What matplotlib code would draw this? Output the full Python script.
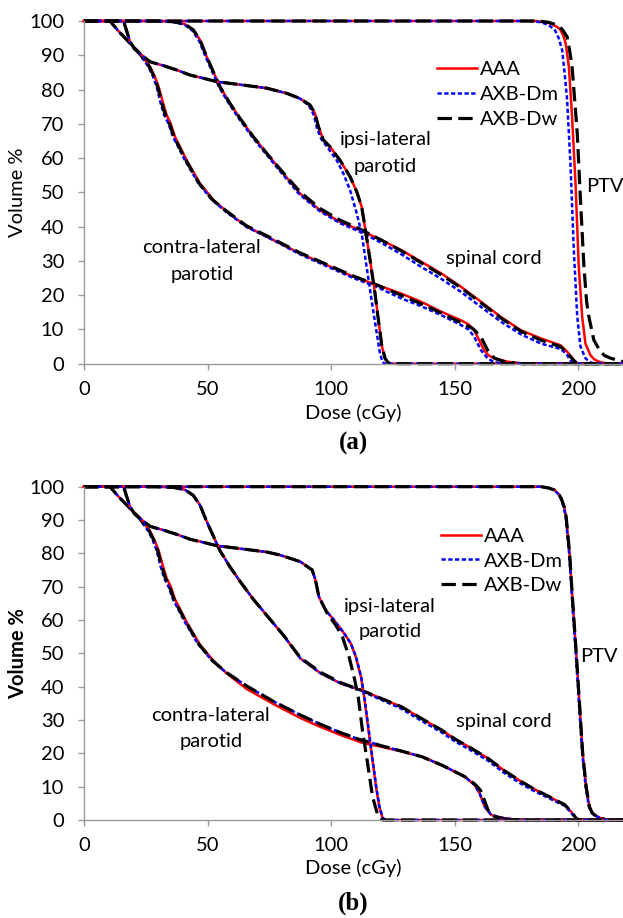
import matplotlib
matplotlib.use('Agg')
import matplotlib.pyplot as plt

plt.rcParams['font.family'] = ['Lato', 'DejaVu Sans']

# ── 데이터 (dose cGy, volume %) ──────────────────────
# panel (a)
A_PTV_AAA = [(0, 100), (183, 100), (188.7, 99.3), (191.5, 98.2), (192.7, 97.4), (194, 95.5), (194.8, 93.5),
             (196.1, 86.7), (197.4, 72.1), (198.8, 52.6), (200.1, 28.3), (201.5, 13.7), (202.8, 5.9),
             (204.8, 2.5), (206.5, 1.2), (208.9, 0.4), (212, 0), (218, 0)]
A_PTV_DM = [(0, 100), (181, 100), (185, 99.6), (188, 98.8), (190.5, 97.3), (192, 95), (193.4, 91.5),
            (194.5, 84), (195.4, 77), (196.8, 57.5), (198.1, 33.2), (199.5, 13.7), (200.8, 5),
            (202.8, 1.6), (204.5, 0.5), (206.5, 0), (218, 0)]
A_PTV_DW = [(0, 100), (184, 100), (188, 99.6), (191.4, 98.8), (193.5, 97.5), (195.4, 95.4), (196.5, 91),
            (197.4, 86.7), (199.5, 67.2), (200.8, 47.8), (202.2, 28.3), (203.3, 18), (204.2, 13.7),
            (206.2, 6.9), (208.9, 3.5), (210.5, 2.4), (213, 1.6), (216, 1.0), (218, 0.6)]

A_CORD_AAA = [(0, 100), (29, 100), (36, 99.8), (40.8, 99.1), (44.2, 97.4), (46.9, 94.5), (49.6, 89.6),
              (52.3, 85.2), (55, 80.8), (59, 76), (63.1, 71.6), (68.5, 66.2), (73.9, 61.4), (80.6, 55.5),
              (87.3, 49.7), (95.4, 44.8), (103.5, 41.4), (111.6, 39), (120.2, 36.1), (128.2, 33.2),
              (136.3, 29.8), (144.4, 26.4), (152.4, 22.5), (160.5, 18.1), (168.5, 13.7), (176.6, 9.8),
              (184.7, 7.4), (192.7, 5.4), (195.4, 3.5), (198.1, 1.1), (199.5, 0.1), (200.5, 0), (218, 0)]
A_CORD_DM = [(0, 100), (28.5, 100), (35.5, 99.8), (40.5, 99), (43.8, 97.2), (46.5, 94.3), (49.2, 89.5),
             (52, 85), (54.7, 80.6), (58.7, 75.8), (62.8, 71.4), (68.2, 66), (73.6, 61.2), (80.3, 55.3),
             (87, 49.5), (95.2, 44.6), (103.5, 41), (111.6, 38.5), (120.2, 35.3), (128.2, 32),
             (136.3, 28.3), (144.4, 24.8), (152.4, 21), (160.5, 16.6), (168.5, 12.3), (176.6, 8.6),
             (184.7, 5.9), (192.7, 4.3), (195, 3), (196.5, 1.2), (197.5, 0.1), (198.5, 0), (218, 0)]
A_CORD_DW = [(0, 100), (29, 100), (36, 99.8), (40.8, 99.1), (44.2, 97.4), (46.9, 94.5), (49.6, 89.6),
             (52.3, 85.2), (55, 80.8), (59, 76), (63.1, 71.6), (68.5, 66.2), (73.9, 61.4), (80.6, 55.7),
             (87.3, 50.2), (95.4, 45.3), (103.5, 41.9), (111.6, 39.3), (120.2, 36.1), (128.2, 33),
             (136.3, 29.5), (144.4, 26), (152.4, 22.2), (160.5, 17.8), (168.5, 13.4), (176.6, 9.5),
             (184.7, 6.9), (192.7, 5), (195.4, 3.2), (198, 1), (199.3, 0.1), (200.3, 0), (218, 0)]

A_CONTRA_AAA = [(0, 100), (10.5, 100), (14, 97), (17.3, 94.5), (22.6, 90.6), (26.7, 86.7), (28.5, 84),
                (30.2, 80.8), (32, 76), (33.4, 72.6), (35.1, 70), (36.8, 66.2), (41.5, 59.4), (46.9, 52.6),
                (52.3, 47.8), (57.7, 44.4), (65.8, 40), (76.6, 36.1), (87.3, 32.2), (98.1, 28.8),
                (108.9, 25.4), (118.4, 23), (128.2, 20.5), (136.3, 18.1), (144.4, 15.2), (152.4, 12.7),
                (155.5, 11.5), (157.8, 9.8), (159.8, 6.9), (161.8, 4), (163.5, 2.5), (165.9, 1.6),
                (171.2, 0.6), (176.6, 0.1), (180, 0), (218, 0)]
A_CONTRA_DM = [(0, 100), (10.5, 100), (14, 97), (17.3, 94.5), (22.2, 90.6), (26, 86.7), (27.8, 84),
               (29.4, 80.8), (31, 76), (32.4, 72.6), (34.2, 70), (36, 66.2), (40.8, 59.4), (46.3, 52.6),
               (51.8, 47.8), (57.3, 44.4), (65.5, 40), (76.4, 36.1), (87.1, 32), (98, 28.5), (108.9, 25),
               (118.4, 22.4), (128.2, 19.1), (136.3, 16.8), (144.4, 14.2), (152.4, 11.3), (155.5, 10),
               (157.8, 7.9), (160.5, 4), (163.2, 1.6), (165.5, 0.6), (168.5, 0.1), (170, 0), (218, 0)]
A_CONTRA_DW = [(0, 100), (10.5, 100), (14, 97), (17.3, 94.5), (22.4, 90.6), (26.4, 86.7), (28.2, 84),
               (29.8, 80.8), (31.5, 76), (32.9, 72.6), (34.6, 70), (36.4, 66.2), (41.2, 59.4), (46.6, 52.6),
               (52, 47.8), (57.5, 44.6), (65.6, 40.3), (76.5, 36.4), (87.2, 32.4), (98.1, 29), (108.9, 25.6),
               (118.4, 23), (128.2, 20), (136.3, 17.5), (144.4, 14.8), (152.4, 12), (157.2, 10.3),
               (160.5, 7.9), (163.2, 4), (166, 1.6), (170, 0.6), (175, 0.1), (178, 0), (218, 0)]

A_IPSI_AAA = [(0, 100), (16, 100), (17.3, 97), (18.6, 94), (20.5, 91.8), (22.6, 90.5), (26.7, 88.1),
              (32, 87), (37.5, 85.7), (43, 84.2), (48.3, 83.3), (53.7, 82.3), (64.4, 81.3), (73.9, 80.4),
              (82, 78.9), (87.3, 77.4), (91.4, 75.5), (93.4, 73.1), (94.8, 69.2), (96.8, 65.3),
              (99.5, 63.3), (103.5, 59.4), (107.6, 54.6), (110.3, 50.2), (112.3, 45.8), (113.6, 40),
              (115.7, 30.3), (117.7, 20.5), (119.2, 12), (120.5, 5), (121.8, 1.5), (123, 0.3), (124, 0),
              (218, 0)]
A_IPSI_DM = [(0, 100), (16, 100), (17.3, 97), (18.6, 94), (20.5, 91.8), (22.6, 90.5), (26.7, 88.1),
             (32, 87), (37.5, 85.7), (43, 84.2), (48.3, 83.3), (53.7, 82.3), (64.4, 81.3), (73.9, 80.4),
             (82, 78.9), (87.3, 77.4), (91, 75.3), (93, 72.5), (94.3, 68.5), (96, 65.5), (98.1, 63.5),
             (102.2, 59.4), (104.9, 55.5), (107.6, 50.7), (110.3, 43.9), (112.3, 38), (114.3, 28.3),
             (116.3, 18.6), (118.4, 8.9), (119.7, 3), (120.8, 0.5), (121.5, 0), (218, 0)]
A_IPSI_DW = [(0, 100), (16, 100), (17.3, 97), (18.6, 94), (20.5, 91.8), (22.6, 90.5), (26.7, 88.1),
             (32, 87), (37.5, 85.7), (43, 84.2), (48.3, 83.3), (53.7, 82.3), (64.4, 81.3), (73.9, 80.4),
             (82, 78.9), (87.3, 77.4), (91.4, 75.5), (93.4, 73.1), (94.8, 69.2), (96.8, 65.3),
             (99.5, 63.3), (103.5, 59.4), (107.6, 54.6), (110.3, 50.2), (112.3, 45.8), (113.6, 40),
             (115.7, 30.3), (117.7, 20.5), (119.2, 12), (120.5, 5), (121.8, 1.5), (123, 0.3), (124, 0),
             (218, 0)]

# panel (b)
B_PTV_AAA = [(0, 100), (184.9, 100), (188, 99.6), (190.3, 99), (192, 97.8), (193, 96.5), (194.2, 94),
             (195, 91), (196.4, 80), (197.7, 65), (199.1, 50), (200.4, 35), (201.7, 20), (203.1, 10),
             (204.4, 4), (205.5, 2.2), (206.5, 1.5), (209.1, 0.5), (211.8, 0), (218, 0)]
B_PTV_DM = [(0, 100), (184.7, 100), (187.8, 99.6), (190.1, 99), (191.8, 97.8), (192.8, 96.5), (194, 94),
            (194.8, 91), (196.2, 80), (197.5, 65), (198.9, 50), (200.2, 35), (201.5, 20), (202.9, 10),
            (204.2, 4), (205.3, 2.2), (206.3, 1.5), (208.9, 0.5), (211.6, 0), (218, 0)]
B_PTV_DW = [(0, 100), (184.9, 100), (188, 99.6), (190.3, 99), (192, 97.8), (193, 96.5), (194.2, 94),
            (195, 91), (196.4, 80), (197.7, 65), (199.1, 50), (200.4, 35), (201.7, 20), (203.1, 10),
            (204.4, 4), (205.5, 2.2), (206.5, 1.5), (209.1, 0.5), (211.8, 0), (218, 0)]

B_CORD_AAA = [(0, 100), (29, 100), (36, 99.8), (40.8, 99.1), (44.2, 97.4), (46.9, 94.5), (49.6, 89.6),
              (52.3, 85.2), (55, 80.8), (59, 76), (63.1, 71.6), (68.5, 66.2), (73.9, 61.4), (80.6, 55.5),
              (87.5, 48.5), (95.7, 44), (103.8, 41), (112, 39), (120.1, 36.5), (128.3, 34), (136.4, 30.5),
              (144.6, 27), (150, 24.3), (156, 21.8), (163.4, 18.5), (170, 14.8), (176.9, 11.5), (182, 9.3),
              (187.6, 7.2), (192, 5.5), (194.4, 4.6), (197, 2.5), (199.1, 0.5), (200.4, 0), (218, 0)]
B_CORD_DM = [(0, 100), (29, 100), (36, 99.8), (40.8, 99.1), (44.2, 97.4), (46.9, 94.5), (49.6, 89.6),
             (52.3, 85.2), (55, 80.8), (59, 76), (63.1, 71.6), (68.5, 66.2), (73.9, 61.4), (80.6, 55.5),
             (87.5, 48.5), (95.7, 44), (103.8, 41), (112, 38.8), (120.1, 36.1), (128.3, 33.4),
             (136.4, 29.8), (144.6, 26.3), (150, 23.6), (156, 21.1), (163.4, 17.8), (170, 14.1),
             (176.9, 10.8), (182, 8.7), (187.6, 6.7), (192, 5.1), (194.4, 4.3), (197, 2.2), (199, 0.4),
             (200.2, 0), (218, 0)]
B_CORD_DW = [(0, 100), (29, 100), (36, 99.8), (40.8, 99.1), (44.2, 97.4), (46.9, 94.5), (49.6, 89.6),
             (52.3, 85.2), (55, 80.8), (59, 76), (63.1, 71.6), (68.5, 66.2), (73.9, 61.4), (80.6, 55.5),
             (87.5, 48.7), (95.7, 44.3), (103.8, 41.2), (112, 39), (120.1, 36.5), (128.3, 34), (136.4, 30.5),
             (144.6, 27), (150, 24.3), (156, 21.8), (163.4, 18.5), (170, 14.8), (176.9, 11.5), (182, 9.3),
             (187.6, 7.2), (192, 5.5), (194.4, 4.6), (197, 2.5), (199.1, 0.5), (200.4, 0), (218, 0)]

B_CONTRA_AAA = [(0, 100), (10.5, 100), (14, 97), (17.3, 94.5), (22.6, 90.6), (26.7, 86.7), (28.5, 84),
                (30.2, 80.8), (32, 76), (33.4, 72.6), (35.1, 70), (36.8, 66.2), (41.5, 59.4), (46.9, 52.6),
                (52.3, 47.8), (57.7, 44), (65.8, 39.3), (76.6, 34.8), (87.5, 30.6), (95.7, 27.9),
                (103.8, 25.5), (112, 23.3), (116.3, 22.5), (120.1, 22), (128.3, 20.6), (136.6, 19),
                (144.6, 16.5), (150, 14.5), (154, 13), (158, 10.5), (160, 8), (162.1, 4), (164.7, 1.5),
                (170.1, 0.5), (176.9, 0), (218, 0)]
B_CONTRA_DM = [(0, 100), (10.5, 100), (14, 97), (17.3, 94.5), (22.2, 90.6), (26, 86.7), (27.8, 84),
               (29.4, 80.8), (31, 76), (32.4, 72.6), (34.2, 70), (36, 66.2), (40.8, 59.4), (46.3, 52.6),
               (51.8, 47.8), (57.3, 44.4), (65.8, 40.2), (76.6, 35.6), (87.5, 31.5), (95.7, 28.7),
               (103.8, 26.2), (112, 24), (116.3, 23.2), (120.1, 22.3), (128.3, 20.7), (136.6, 19),
               (144.6, 16.5), (150, 14.5), (154, 13), (158, 10.5), (160, 8), (162.1, 4), (164.7, 1.5),
               (170.1, 0.5), (176.9, 0), (218, 0)]
B_CONTRA_DW = [(0, 100), (10.5, 100), (14, 97), (17.3, 94.5), (22.4, 90.6), (26.4, 86.7), (28.2, 84),
               (29.8, 80.8), (31.5, 76), (32.9, 72.6), (34.6, 70), (36.4, 66.2), (41.2, 59.4), (46.6, 52.6),
               (52, 47.8), (57.5, 44.3), (65.8, 40.2), (76.6, 35.6), (87.5, 31.5), (95.7, 28.7),
               (103.8, 26.2), (112, 24), (116.3, 23.2), (120.1, 22.3), (128.3, 20.7), (136.6, 19),
               (144.6, 16.5), (150, 14.5), (154, 13), (158, 10.8), (160.3, 9), (161.4, 7), (163.4, 3),
               (166.1, 1), (170, 0.3), (174, 0), (218, 0)]

B_IPSI_AAA = [(0, 100), (16, 100), (17.3, 97), (18.6, 94), (20.5, 91.8), (22.6, 90.5), (26.7, 88.1),
              (32, 87), (37.5, 85.7), (43, 84.2), (48.3, 83.3), (53.7, 82.3), (64.4, 81.3), (73.9, 80.4),
              (79.3, 79.5), (87.5, 77.5), (92.3, 75), (93.6, 72), (95, 67), (97.7, 63), (101.1, 60),
              (105.2, 56), (107.9, 53), (109.9, 49), (112, 43), (113.3, 37), (114.7, 29), (116.3, 20),
              (118.1, 10), (119.4, 4), (120.8, 0.5), (122.2, 0), (218, 0)]
B_IPSI_DM = [(0, 100), (16, 100), (17.3, 97), (18.6, 94), (20.5, 91.8), (22.6, 90.5), (26.7, 88.1),
             (32, 87), (37.5, 85.7), (43, 84.2), (48.3, 83.3), (53.7, 82.3), (64.4, 81.3), (73.9, 80.4),
             (79.3, 79.5), (87.5, 77.5), (92.3, 75), (93.6, 72), (95, 67), (97.7, 63), (101.1, 60),
             (105.2, 56), (107.9, 53), (110, 49), (112.1, 43), (113.4, 37), (114.8, 29), (116.4, 20),
             (118.2, 10), (119.5, 4), (120.9, 0.5), (122.3, 0), (218, 0)]
B_IPSI_DW = [(0, 100), (16, 100), (17.3, 97), (18.6, 94), (20.5, 91.8), (22.6, 90.5), (26.7, 88.1),
             (32, 87), (37.5, 85.7), (43, 84.2), (48.3, 83.3), (53.7, 82.3), (64.4, 81.3), (73.9, 80.4),
             (79.3, 79.5), (87.5, 77.5), (92.3, 75), (93.6, 72), (95, 67), (97.7, 63), (98.4, 62),
             (101.8, 58.5), (104.5, 55), (107.2, 49), (109.2, 43), (110.9, 37), (112.6, 27), (114.7, 17),
             (116.7, 7), (118.8, 1.5), (120.8, 0), (218, 0)]

X_TICKS = [0, 50, 100, 150, 200]
Y_TICKS = list(range(0, 101, 10))
# ──────────────────────────────────────

FS = 14.5
GRAY = '#9a9a9a'
STYLE_AAA = dict(color='#ff0000', lw=1.8, ls='-')
STYLE_DM = dict(color='#0000ff', lw=1.8, ls=(0, (1.7, 1.0)))
STYLE_DW = dict(color='black', lw=2.3, ls=(0, (4.5, 2.0)))

fig = plt.figure(figsize=(6.23, 9.18), dpi=100)

panels = [
    dict(rect=[84 / 623, 1 - 363.7 / 918, 539 / 623, 342.7 / 918],
         curves=[(A_PTV_AAA, A_PTV_DM, A_PTV_DW), (A_CORD_AAA, A_CORD_DM, A_CORD_DW),
                 (A_CONTRA_AAA, A_CONTRA_DM, A_CONTRA_DW), (A_IPSI_AAA, A_IPSI_DM, A_IPSI_DW)],
         labels=[(122, 65.4, 'ipsi-lateral'), (122, 57.4, 'parotid'), (210.5, 51.7, 'PTV'),
                 (165.9, 30.7, 'spinal cord'), (47.6, 33.9, 'contra-lateral'), (47.6, 26.1, 'parotid')],
         leg=(0.654, 0.883), ylab_bold=False, xlab_y=413, tag='(a)', tag_y=443),
    dict(rect=[84 / 623, 1 - 820 / 918, 539 / 623, 333.3 / 918],
         curves=[(B_PTV_AAA, B_PTV_DM, B_PTV_DW), (B_CORD_AAA, B_CORD_DM, B_CORD_DW),
                 (B_CONTRA_AAA, B_CONTRA_DM, B_CONTRA_DW), (B_IPSI_AAA, B_IPSI_DM, B_IPSI_DW)],
         labels=[(123.8, 64.2, 'ipsi-lateral'), (123.8, 56.5, 'parotid'), (208.1, 49, 'PTV'),
                 (169.8, 29.5, 'spinal cord'), (51.3, 31.5, 'contra-lateral'), (51.3, 23.5, 'parotid')],
         leg=(0.662, 0.877), ylab_bold=True, xlab_y=868, tag='(b)', tag_y=903),
]

for p in panels:
    ax = fig.add_axes(p['rect'])
    for aaa, dm, dw in p['curves']:
        l1, = ax.plot([d for d, v in aaa], [v for d, v in aaa], clip_on=False, **STYLE_AAA)
        l2, = ax.plot([d for d, v in dm], [v for d, v in dm], clip_on=False, **STYLE_DM)
        l3, = ax.plot([d for d, v in dw], [v for d, v in dw], clip_on=False, **STYLE_DW)
    ax.set_xlim(0, 218)
    ax.set_ylim(0, 100)
    ax.set_xticks(X_TICKS)
    ax.set_yticks(Y_TICKS)
    for s in ['top', 'right']:
        ax.spines[s].set_visible(False)
    for s in ['left', 'bottom']:
        ax.spines[s].set_color(GRAY)
        ax.spines[s].set_linewidth(1.0)
    ax.tick_params(direction='out', length=4.3, width=1.0, color=GRAY, labelsize=FS)
    ax.tick_params(axis='y', pad=10)
    ax.tick_params(axis='x', pad=8)
    for x, y, t in p['labels']:
        ax.text(x, y, t, ha='center', va='center', fontsize=FS)
    ax.legend([l1, l2, l3], ['AAA', 'AXB-Dm', 'AXB-Dw'], loc='upper left',
              bbox_to_anchor=p['leg'], frameon=False, fontsize=FS, borderpad=0,
              borderaxespad=0, handlelength=2.0, handletextpad=0.15, labelspacing=0.38)
    yc = (1 - (p['rect'][1] + p['rect'][3] / 2))
    fig.text(18 / 623, 1 - yc, 'Volume %', rotation=90, ha='center', va='center', fontsize=FS,
             fontweight='bold' if p['ylab_bold'] else 'normal')
    fig.text((84 + 623) / 2 / 623, 1 - p['xlab_y'] / 918, 'Dose (cGy)', ha='center', va='center',
             fontsize=FS)
    fig.text((84 + 623) / 2 / 623, 1 - p['tag_y'] / 918, p['tag'], ha='center', va='center',
             fontsize=18, fontweight='bold', family='Liberation Serif')

fig.savefig('out.png', dpi=100)
